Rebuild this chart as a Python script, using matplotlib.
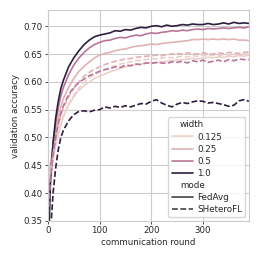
import matplotlib
matplotlib.use("Agg")
import matplotlib.pyplot as plt
from matplotlib.lines import Line2D
from matplotlib.colors import Normalize
import seaborn as sns

rounds = [0, 2, 5, 10, 15, 20, 25, 30] + list(range(40, 390, 10)) + [389]

widths = [0.125, 0.25, 0.5, 1.0]
modes = ["FedAvg", "SHeteroFL"]

fedavg_0125 = [0.47, 0.44, 0.44, 0.46, 0.485, 0.505, 0.522, 0.537, 0.558, 0.573, 0.585, 0.593,
               0.600, 0.606, 0.610, 0.614, 0.618, 0.621, 0.624, 0.627, 0.629, 0.631, 0.632, 0.634,
               0.635, 0.634, 0.636, 0.637, 0.638, 0.639, 0.640, 0.641, 0.642, 0.641, 0.643, 0.644,
               0.643, 0.645, 0.644, 0.646, 0.645, 0.647, 0.646, 0.648]
fedavg_025 = [0.44, 0.43, 0.45, 0.48, 0.51, 0.535, 0.555, 0.57, 0.59, 0.606, 0.619, 0.628,
              0.636, 0.643, 0.648, 0.651, 0.653, 0.656, 0.658, 0.659, 0.662, 0.664, 0.665, 0.666,
              0.668, 0.667, 0.669, 0.670, 0.671, 0.672, 0.673, 0.674, 0.676, 0.676, 0.677, 0.676,
              0.677, 0.676, 0.677, 0.676, 0.677, 0.675, 0.675, 0.674]
fedavg_05 = [0.38, 0.40, 0.44, 0.49, 0.525, 0.553, 0.575, 0.59, 0.613, 0.630, 0.643, 0.653,
             0.661, 0.667, 0.671, 0.674, 0.675, 0.678, 0.680, 0.679, 0.682, 0.684, 0.683, 0.686,
             0.688, 0.687, 0.689, 0.690, 0.692, 0.691, 0.693, 0.692, 0.694, 0.695, 0.694, 0.696,
             0.695, 0.696, 0.697, 0.696, 0.697, 0.698, 0.697, 0.699]
fedavg_10 = [0.28, 0.33, 0.42, 0.49, 0.535, 0.565, 0.588, 0.603, 0.627, 0.643, 0.656, 0.667,
             0.675, 0.681, 0.684, 0.686, 0.688, 0.692, 0.691, 0.694, 0.693, 0.696, 0.698, 0.697,
             0.700, 0.701, 0.699, 0.702, 0.700, 0.701, 0.703, 0.702, 0.704, 0.703, 0.703, 0.705,
             0.703, 0.704, 0.706, 0.704, 0.707, 0.705, 0.706, 0.705]

shetero_0125 = [0.46, 0.43, 0.44, 0.465, 0.49, 0.51, 0.527, 0.54, 0.56, 0.576, 0.589, 0.599,
                0.607, 0.613, 0.618, 0.622, 0.626, 0.629, 0.632, 0.634, 0.636, 0.638, 0.639, 0.640,
                0.642, 0.641, 0.643, 0.644, 0.643, 0.645, 0.646, 0.645, 0.647, 0.646, 0.648, 0.647,
                0.648, 0.647, 0.649, 0.648, 0.649, 0.648, 0.650, 0.650]
shetero_025 = [0.43, 0.42, 0.44, 0.47, 0.50, 0.522, 0.54, 0.553, 0.573, 0.588, 0.600, 0.610,
               0.617, 0.623, 0.627, 0.631, 0.634, 0.637, 0.639, 0.641, 0.642, 0.644, 0.645, 0.646,
               0.647, 0.648, 0.647, 0.649, 0.650, 0.651, 0.650, 0.652, 0.651, 0.650, 0.652, 0.651,
               0.650, 0.652, 0.651, 0.653, 0.652, 0.651, 0.653, 0.654]
shetero_05 = [0.36, 0.38, 0.42, 0.47, 0.50, 0.525, 0.543, 0.557, 0.577, 0.590, 0.599, 0.605,
              0.611, 0.615, 0.619, 0.622, 0.624, 0.627, 0.626, 0.630, 0.629, 0.632, 0.631, 0.634,
              0.633, 0.635, 0.634, 0.633, 0.636, 0.635, 0.637, 0.634, 0.638, 0.636, 0.639, 0.635,
              0.637, 0.639, 0.636, 0.640, 0.638, 0.641, 0.640, 0.640]
shetero_10 = [0.26, 0.29, 0.33, 0.40, 0.445, 0.478, 0.50, 0.513, 0.530, 0.541, 0.547, 0.548,
              0.546, 0.549, 0.550, 0.555, 0.553, 0.556, 0.554, 0.557, 0.555, 0.558, 0.561, 0.560,
              0.565, 0.568, 0.562, 0.558, 0.555, 0.560, 0.563, 0.561, 0.564, 0.566, 0.565, 0.562,
              0.563, 0.561, 0.559, 0.556, 0.558, 0.566, 0.568, 0.565]

series = {
    "FedAvg": [fedavg_0125, fedavg_025, fedavg_05, fedavg_10],
    "SHeteroFL": [shetero_0125, shetero_025, shetero_05, shetero_10],
}

sns.set_style("whitegrid")
plt.rcParams["font.family"] = ["DejaVu Sans"]
fs = 6.2

cmap = sns.cubehelix_palette(as_cmap=True)
norm = Normalize(min(widths), max(widths))
styles = {"FedAvg": "-", "SHeteroFL": (0, (3.5, 1.5))}

fig, ax = plt.subplots(figsize=(2.59, 2.59), dpi=100)
fig.subplots_adjust(left=0.185, right=0.961, top=0.961, bottom=0.147)

for mode in modes:
    for w, vals in zip(widths, series[mode]):
        ax.plot(rounds, vals, color=cmap(norm(w)), linestyle=styles[mode], lw=1.2)

ax.set_xlim(0, 389)
ax.set_ylim(0.35, 0.729)
ax.set_xticks([0, 100, 200, 300])
ax.set_yticks([0.35, 0.40, 0.45, 0.50, 0.55, 0.60, 0.65, 0.70])
ax.set_yticklabels(["%.2f" % v for v in ax.get_yticks()])
ax.tick_params(labelsize=fs, pad=1.5, length=2.5, width=0.7, color=".3",
               left=True, bottom=True)
ax.set_xlabel("communication round", fontsize=fs, labelpad=1.5)
ax.set_ylabel("validation accuracy", fontsize=fs, labelpad=2)

handles = [Line2D([], [], color="none", label="width")]
for w in widths:
    handles.append(Line2D([], [], color=cmap(norm(w)), lw=1.2, label=str(w)))
handles.append(Line2D([], [], color="none", label="mode"))
for mode in modes:
    handles.append(Line2D([], [], color="#444444", lw=1.2, linestyle=styles[mode], label=mode))
leg = ax.legend(handles=handles, loc="lower right", fontsize=6.3, handlelength=2.4,
                borderaxespad=0.4, labelspacing=0.35, handletextpad=0.5)
# pull the group titles left, like seaborn's brief legend
for t in leg.get_texts():
    if t.get_text() in ("width", "mode"):
        t.set_x(-17)

fig.savefig("out.png", dpi=100)
